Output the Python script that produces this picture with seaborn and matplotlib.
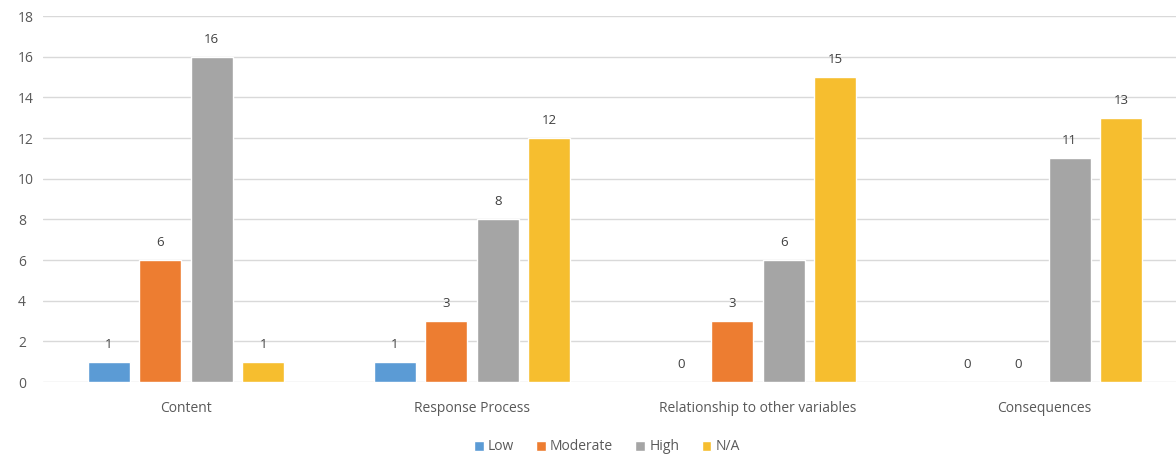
import matplotlib
matplotlib.use("Agg")
import matplotlib.pyplot as plt
import seaborn as sns
import pandas as pd

categories = ["Content", "Response Process", "Relationship to other variables", "Consequences"]
levels = ["Low", "Moderate", "High", "N/A"]
low = [1, 1, 0, 0]
moderate = [6, 3, 3, 0]
high = [16, 8, 6, 11]
na = [1, 12, 15, 13]
colors = ["#5B9BD5", "#ED7D31", "#A5A5A5", "#F6BE2F"]

rows = []
for series, lvl in zip([low, moderate, high, na], levels):
    for c, v in zip(categories, series):
        rows.append({"Category": c, "Level": lvl, "Count": v})
df = pd.DataFrame(rows)

sns.set_style("white")
plt.rcParams["font.family"] = ["Open Sans", "DejaVu Sans"]
text_color = "#595959"

fig = plt.figure(figsize=(11.76, 4.58), dpi=100)
ax = fig.add_axes([43 / 1176, 1 - 382 / 458, 1144 / 1176, (382 - 16) / 458])

sns.barplot(data=df, x="Category", y="Count", hue="Level", order=categories,
            hue_order=levels, palette=colors, width=0.72, gap=0.18,
            saturation=1, ax=ax, legend=True)

for cont in ax.containers:
    ax.bar_label(cont, fmt="%d", padding=8, fontsize=9.5, color="#404040")

ax.set_ylim(0, 18)
ax.set_yticks(range(0, 19, 2))
ax.yaxis.grid(True, color="#D9D9D9", linewidth=1)
ax.set_axisbelow(True)
for s in ax.spines.values():
    s.set_visible(False)
ax.set_xlabel("")
ax.set_ylabel("")
ax.tick_params(axis="both", length=0, labelsize=10, colors=text_color)
ax.tick_params(axis="x", pad=14)
ax.tick_params(axis="y", pad=18)
for lbl in ax.get_yticklabels():
    lbl.set_horizontalalignment("left")

leg = ax.get_legend()
handles, labels = ax.get_legend_handles_labels()
leg.remove()
fig.legend(handles, labels, loc="center", bbox_to_anchor=(0.516, 1 - 447 / 458),
           ncol=4, frameon=False, fontsize=10, handlelength=0.7, handleheight=0.7,
           handletextpad=0.3, columnspacing=1.6, labelcolor=text_color)

fig.savefig("out.png", dpi=100)
